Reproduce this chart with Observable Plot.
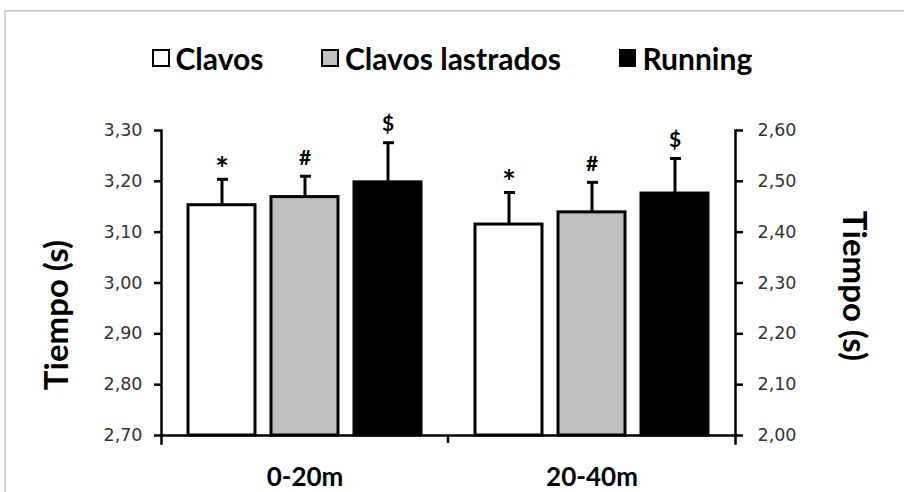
<!DOCTYPE html>
<html>
<head>
<meta charset="utf-8">
<script src="https://cdn.jsdelivr.net/npm/d3@7"></script>
<script src="https://cdn.jsdelivr.net/npm/@observablehq/plot@0.6"></script>
<style>
  body { margin: 0; background: #fff; }
  #wrap { position: relative; width: 904px; height: 492px; overflow: hidden; background: #fff; }
  #border { position: absolute; left: 4px; top: 10px; width: 920px; height: 500px; border-top: 2px solid #cfcfcf; border-left: 2px solid #cfcfcf; }
  #legend { position: relative; height: 100px; display: flex; align-items: center; padding-left: 152px; gap: 58px; font-family: Lato, sans-serif; font-weight: 700; font-size: 30px; color: #000; box-sizing: border-box; padding-top: 16px; }
  .item { display: flex; align-items: center; }
  .sw { width: 13.5px; height: 13.5px; border: 2.5px solid #000; margin-right: 6px; }
  #chart { position: relative; }
</style>
</head>
<body>
<div id="wrap">
  <div id="border"></div>
  <div id="legend"></div>
  <div id="chart"></div>
</div>
<script>
// ---- data ----
const groups = ["0-20m", "20-40m"];
const series = ["Clavos", "Clavos lastrados", "Running"];
const fills = ["#ffffff", "#c0c0c0", "#000000"];
const means020 = [3.153, 3.169, 3.198];
const sd020 = [0.051, 0.041, 0.078];
const means2040 = [2.415, 2.439, 2.476];
const sd2040 = [0.063, 0.059, 0.069];
const sigMarks = ["*", "#", "$"];
const leftTicks = [2.70, 2.80, 2.90, 3.00, 3.10, 3.20, 3.30];
const rightTicks = [2.00, 2.10, 2.20, 2.30, 2.40, 2.50, 2.60];
const yTitle = "Tiempo (s)";

// right axis maps onto left scale by an offset
const offset = leftTicks[0] - rightTicks[0];
const groupMeans = [means020, means2040];
const groupSds = [sd020, sd2040];
const groupOffsets = [0, offset];
const rows = [];
groups.forEach((g, i) => series.forEach((s, j) => rows.push({
  group: g, series: s,
  y: groupMeans[i][j] + groupOffsets[i],
  err: groupMeans[i][j] + groupSds[i][j] + groupOffsets[i],
  mark: sigMarks[j]
})));

const fmt = d => d3.format(".2f")(d).replace(".", ",");

// legend
const legend = document.getElementById("legend");
series.forEach((s, j) => {
  const it = document.createElement("div");
  it.className = "item";
  const sw = document.createElement("div");
  sw.className = "sw";
  sw.style.background = fills[j];
  const t = document.createElement("span");
  t.textContent = s;
  it.appendChild(sw); it.appendChild(t);
  legend.appendChild(it);
});

const tickFont = { fontFamily: "DejaVu Sans", fontSize: 17.5 };
const midY = (leftTicks[0] + leftTicks[leftTicks.length - 1]) / 2;

const chart = Plot.plot({
  width: 904,
  height: 392,
  marginTop: 30,
  marginBottom: 57,
  marginLeft: 161,
  marginRight: 169,
  style: { fontFamily: "Lato, sans-serif", background: "transparent", overflow: "visible" },
  fx: { domain: groups, padding: 0 },
  x: { domain: series, paddingInner: 0.19, paddingOuter: 0.304, axis: null },
  y: { domain: [leftTicks[0], leftTicks[leftTicks.length - 1]] },
  color: { domain: series, range: fills },
  marks: [
    Plot.barY(rows, { fx: "group", x: "series", y1: () => leftTicks[0], y2: "y", fill: "series", stroke: "#000", strokeWidth: 3 }),
    Plot.ruleX(rows, { fx: "group", x: "series", y1: "y", y2: "err", stroke: "#000", strokeWidth: 3 }),
    Plot.tickY(rows, { fx: "group", x: "series", y: "err", stroke: "#000", strokeWidth: 3, insetLeft: 29, insetRight: 27 }),
    Plot.text(rows, { filter: d => d.mark === "*", fx: "group", x: "series", y: "err", text: "mark", dy: -9, fontSize: 32, fontWeight: "bold", fontFamily: "Lato, sans-serif", fill: "#000" }),
    Plot.text(rows, { filter: d => d.mark !== "*", fx: "group", x: "series", y: "err", text: "mark", dy: -18, fontSize: 21, fontWeight: "bold", fontFamily: "Lato, sans-serif", fill: "#000" }),
    Plot.frame({ anchor: "left", facet: "super", stroke: "#000", strokeWidth: 2.5, insetBottom: -8 }),
    Plot.frame({ anchor: "right", facet: "super", stroke: "#000", strokeWidth: 2.5, insetBottom: -8 }),
    Plot.frame({ anchor: "bottom", facet: "super", stroke: "#000", strokeWidth: 2.5 }),
    Plot.axisY({ anchor: "left", ticks: leftTicks, tickFormat: fmt, tickSize: 7, tickPadding: 12, strokeWidth: 2.5, stroke: "#000", fill: "#333", label: null, ...tickFont }),
    Plot.axisY({ anchor: "right", ticks: rightTicks.map(v => v + offset), tickFormat: d => fmt(d - offset), tickSize: 7, tickPadding: 15, strokeWidth: 2.5, stroke: "#000", fill: "#333", label: null, ...tickFont }),
    Plot.axisFx({ anchor: "bottom", tickSize: 0, tickPadding: 32, fontSize: 26, fontWeight: "bold", fontFamily: "Lato, sans-serif", fill: "#000", label: null }),
    Plot.text([yTitle], { fx: () => groups[0], y: () => midY, frameAnchor: "left", textAnchor: "middle", lineAnchor: "middle", text: d => d, rotate: -90, dx: -104, dy: 32, fontSize: 33, fontWeight: "bold", fontFamily: "Lato, sans-serif", fill: "#000" }),
    Plot.text([yTitle], { fx: () => groups[1], y: () => midY, frameAnchor: "right", textAnchor: "middle", lineAnchor: "middle", text: d => d, rotate: 90, dx: 118, dy: 3, fontSize: 33, fontWeight: "bold", fontFamily: "Lato, sans-serif", fill: "#000" })
  ]
});

// category-boundary tick between the groups, placed with the fx scale
const fxs = chart.scale("fx");
const ys = chart.scale("y");
const xb = fxs.apply(groups[1]);
const yb = ys.apply(leftTicks[0]);
d3.select(chart).append("line")
  .attr("x1", xb).attr("x2", xb)
  .attr("y1", yb).attr("y2", yb + 8)
  .attr("stroke", "#000").attr("stroke-width", 2.5);

document.getElementById("chart").appendChild(chart);
</script>
</body>
</html>
